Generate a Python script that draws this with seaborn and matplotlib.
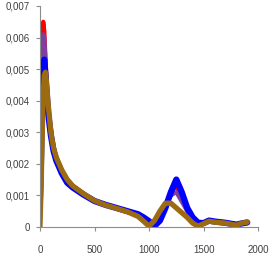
import numpy as np
import pandas as pd
import matplotlib
matplotlib.use("Agg")
import matplotlib.pyplot as plt
import seaborn as sns
from matplotlib.ticker import FuncFormatter

# ===================== 数据 =====================
x = [0, 10, 20, 30, 40, 50, 60, 75, 100, 125, 150, 200, 250, 300, 400, 500,
     600, 700, 800, 900, 950, 1000, 1050, 1100, 1150, 1200, 1250, 1300, 1350,
     1400, 1450, 1500, 1550, 1600, 1700, 1800, 1850, 1900]

red = [0.0006, 0.0022, 0.0048, 0.0065, 0.0062, 0.0054, 0.0047, 0.0038, 0.0030, 0.0025,
       0.0022, 0.0018, 0.0015, 0.0013, 0.00105, 0.00083, 0.00069, 0.00059, 0.00048,
       0.00036, 0.00028, 0.00018, 0.0001, 0.0003, 0.0007, 0.0011, 0.0013, 0.0009,
       0.0005, 0.0002, 0.00008, 0.0001, 0.0002, 0.00018, 0.00014, 0.00008, 0.00012, 0.00015]

purple = [0.0004, 0.0020, 0.0045, 0.0061, 0.0060, 0.0053, 0.0046, 0.0038, 0.0030, 0.0025,
          0.0022, 0.0018, 0.0015, 0.0013, 0.00105, 0.00083, 0.00069, 0.00059, 0.00048,
          0.00035, 0.00026, 0.00015, 0.0001, 0.0003, 0.0007, 0.0010, 0.0011, 0.0008,
          0.0005, 0.0002, 0.00006, 0.0001, 0.0002, 0.00018, 0.00014, 0.00008, 0.00012, 0.00015]

blue = [0.0009, 0.0022, 0.0042, 0.0052, 0.0053, 0.0048, 0.0043, 0.0036, 0.0029, 0.0024,
        0.0021, 0.0017, 0.0014, 0.00125, 0.00102, 0.00082, 0.0007, 0.0006, 0.0005,
        0.0004, 0.0003, 0.00018, 0.00003, 0.0002, 0.0006, 0.0011, 0.0015, 0.0011,
        0.0006, 0.0003, 0.00013, 0.00012, 0.0002, 0.00017, 0.00013, 0.00007, 0.00011, 0.00014]

green = [0.0002, 0.0015, 0.0032, 0.0042, 0.0045, 0.0046, 0.0044, 0.0038, 0.0030, 0.0025,
         0.0022, 0.0018, 0.0015, 0.0013, 0.00105, 0.00083, 0.00069, 0.00059, 0.00048,
         0.00033, 0.0002, 0.00004, 0.0002, 0.0005, 0.00075, 0.00075, 0.0006, 0.00045,
         0.0003, 0.00012, 0.00002, 0.0001, 0.00018, 0.00015, 0.00012, 0.00005, 0.00012, 0.00015]

brown = [0.0, 0.0012, 0.0028, 0.0042, 0.0048, 0.0049, 0.0046, 0.0039, 0.0030, 0.0025,
         0.0022, 0.0018, 0.0015, 0.0013, 0.00105, 0.00083, 0.00069, 0.00059, 0.00048,
         0.00033, 0.00018, 0.00002, 0.0002, 0.0005, 0.00075, 0.00075, 0.0006, 0.00045,
         0.0003, 0.00012, 0.00002, 0.0001, 0.00018, 0.00015, 0.00012, 0.00005, 0.00012, 0.00015]

series = ["red", "purple", "blue", "green", "brown"]
colors = {"red": "#FF0000", "purple": "#7F3FA0", "blue": "#0000FF",
          "green": "#33CC33", "brown": "#9C6A10"}
widths = {"red": 3.0, "purple": 3.0, "blue": 4.5, "green": 2.0, "brown": 3.8}

df = pd.DataFrame({"x": x, "red": red, "purple": purple, "blue": blue,
                   "green": green, "brown": brown})
long_df = df.melt(id_vars="x", var_name="series", value_name="y")

# ===================== 绘图 =====================
sns.set_style("white")
plt.rcParams["font.family"] = ["Liberation Sans", "DejaVu Sans"]

fig = plt.figure(figsize=(2.7, 2.59), dpi=100)
ax = fig.add_axes([0.148, 0.124, 0.808, 0.853])

for s in series:
    sns.lineplot(data=long_df[long_df["series"] == s], x="x", y="y",
                 color=colors[s], linewidth=widths[s], ax=ax, sort=False,
                 solid_capstyle="round", solid_joinstyle="round")

ax.set_xlim(0, 2000)
ax.set_ylim(0, 0.007)
ax.set_xticks([0, 500, 1000, 1500, 2000])
ax.set_yticks(np.arange(0, 0.0071, 0.001))
ax.yaxis.set_major_formatter(FuncFormatter(
    lambda v, p: "0" if abs(v) < 1e-12 else f"{v:.3f}".replace(".", ",")))
ax.set_xlabel("")
ax.set_ylabel("")

for side in ["top", "right"]:
    ax.spines[side].set_visible(False)
for side in ["left", "bottom"]:
    ax.spines[side].set_color("#8C8C8C")
    ax.spines[side].set_linewidth(0.8)
ax.tick_params(axis="both", direction="out", length=3, width=0.8,
               color="#8C8C8C", labelsize=7, labelcolor="#404040")
ax.tick_params(axis="x", pad=10)
ax.tick_params(axis="y", pad=4)
ax.tick_params(left=True, bottom=True)

fig.savefig("out.png", dpi=100)
